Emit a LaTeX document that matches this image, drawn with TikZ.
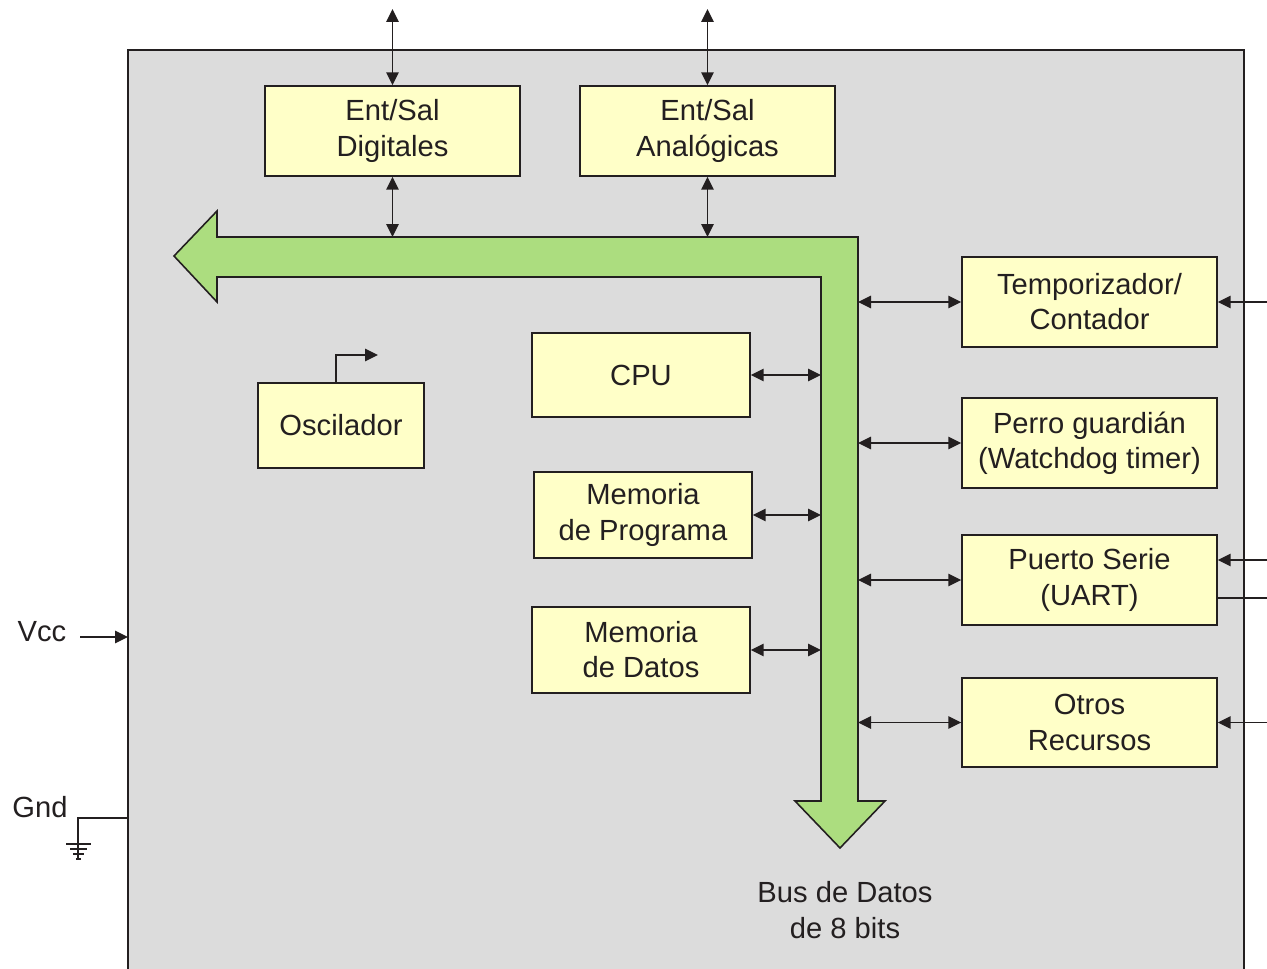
\documentclass[tikz,border=0pt]{standalone}
\usepackage{fontspec}
\setmainfont{Liberation Sans}
\usetikzlibrary{arrows.meta}
\definecolor{ink}{HTML}{231F20}
\definecolor{chip}{HTML}{DCDCDC}
\definecolor{blockfill}{HTML}{FFFFC8}
\definecolor{busgreen}{HTML}{ACDD7F}
\begin{document}
\begin{tikzpicture}[x=0.02cm,y=-0.02cm,
  >={Triangle[length=0.26cm,width=0.25cm]},
  every node/.style={text=ink,font=\fontsize{16.6}{20}\selectfont},
  block/.style={draw=ink,line width=0.85pt,fill=blockfill,inner sep=0pt,
    align=center,minimum width=5.1cm,minimum height=1.8cm},
  memblock/.style={block,minimum width=4.36cm,minimum height=1.72cm},
  link/.style={draw=ink,line width=0.85pt},
  label/.style={align=center,inner sep=0pt}]
\useasboundingbox (0,0) rectangle (1267,969);

% chip body
\fill[chip] (128,50) rectangle (1244,975);
\draw[ink,line width=0.9pt] (128,975) -- (128,50) -- (1244,50) -- (1244,975);

% data bus
\draw[ink,line width=0.9pt,fill=busgreen]
  (174,256) -- (217,211) -- (217,237) -- (858,237) -- (858,801) -- (885,801)
  -- (840,848) -- (795,801) -- (821,801) -- (821,277) -- (217,277)
  -- (217,302) -- cycle;
\coordinate (busTop) at (0,237);
\coordinate (busOuter) at (858,0);
\coordinate (busInner) at (821,0);

% blocks
\node[block] (dig) at (392.5,131) {Ent/Sal\\Digitales};
\node[block] (ana) at (707.5,131) {Ent/Sal\\Analógicas};
\node[block] (tmr) at (1089.5,302) {Temporizador/\\Contador};
\node[block] (wdt) at (1089.5,443) {Perro guardián\\(Watchdog timer)};
\node[block] (uart) at (1089.5,580) {Puerto Serie\\(UART)};
\node[block,minimum height=1.78cm] (other) at (1089.5,722.5) {Otros\\Recursos};
\node[memblock,minimum height=1.68cm] (cpu) at (641,375) {CPU};
\node[memblock] (prog) at (643,515) {Memoria\\de Programa};
\node[memblock] (data) at (641,650) {Memoria\\de Datos};
\node[block,minimum width=3.32cm,minimum height=1.7cm] (osc) at (341,425.5) {Oscilador};

% external pins
\coordinate (digPin) at (392.5,9);
\coordinate (anaPin) at (707.5,9);
\coordinate (tmrPin) at (1267,302);
\coordinate (uartIn) at (1267,560);
\coordinate (uartOut) at (1267,598);
\coordinate (otherPin) at (1267,722.5);

% I/O ports
\draw[link,<->] (digPin) -- (dig.north);
\draw[link,<->] (anaPin) -- (ana.north);
\draw[link,<->] (dig.south) -- (dig.south |- busTop);
\draw[link,<->] (ana.south) -- (ana.south |- busTop);

% peripherals on the outer side of the bus
\draw[link,<->] (tmr.west -| busOuter) -- (tmr.west);
\draw[link,<->] (wdt.west -| busOuter) -- (wdt.west);
\draw[link,<->] (uart.west -| busOuter) -- (uart.west);
\draw[link,<->] (other.west -| busOuter) -- (other.west);
\draw[link,->] (tmrPin) -- (tmr.east);
\draw[link,->] (uartIn) -- (uartIn -| uart.east);
\draw[link] (uartOut -| uart.east) -- (uartOut);
\draw[link,->] (otherPin) -- (other.east);

% core blocks on the inner side of the bus
\draw[link,<->] (cpu.east) -- (cpu.east -| busInner);
\draw[link,<->] (prog.east) -- (prog.east -| busInner);
\draw[link,<->] (data.east) -- (data.east -| busInner);

% clock output
\coordinate (clk) at (378,355);
\draw[link,->] (osc.north -| 336,0) |- (clk);

% supply
\node[label] (vcc) at (42,632) {Vcc};
\coordinate (vccEnd) at (128,637);
\draw[link,->] (80,637) -- (vccEnd);
\node[label] (gnd) at (40,807) {Gnd};
\coordinate (gndPin) at (128,818);
\coordinate (gndTop) at (78,844);
\draw[link] (gndPin) -| (gndTop) -- (78,859);
\draw[link] (66,844) -- (91,844);
\draw[link] (70,849) -- (87,849);
\draw[link] (73,854) -- (84,854);
\draw[link] (76,859) -- (81,859);

% bus caption
\node[label] (buslabel) at (845,910) {Bus de Datos\\de 8 bits};
\end{tikzpicture}
\end{document}
